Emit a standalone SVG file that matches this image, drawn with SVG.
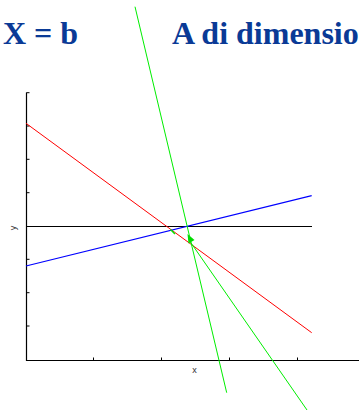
<svg xmlns="http://www.w3.org/2000/svg" width="359" height="411" viewBox="0 0 359 411">
<style>
.title{font-family:"Liberation Serif","Times New Roman",serif;font-weight:bold;font-size:32px;fill:#0a3a96}
.lbl{font-family:"Liberation Sans",Arial,sans-serif;font-size:9px;fill:#333}
.ax{stroke:#000;stroke-width:1.2;fill:none}
.tk{stroke:#000;stroke-width:1;fill:none}
</style>
<rect width="359" height="411" fill="#fff"/>
<g id="titles">
<text class="title" x="3" y="43.5">X = b</text>
<text class="title" x="172" y="43.5">A di dimensio</text>
</g>
<g id="axes">
<path class="ax" d="M26.5 92.5 V360.5 H359"/>
<path class="tk" d="M26.5 92.7h3M26.5 126h3M26.5 159.3h3M26.5 192.7h3M26.5 259.3h3M26.5 292.7h3M26.5 326h3"/>
<path class="tk" d="M93.5 360.5v-3M161.5 360.5v-3M229.5 360.5v-3M297.5 360.5v-3"/>
<text class="lbl" x="194.5" y="372.5" text-anchor="middle">x</text>
<text class="lbl" transform="translate(15.5,228) rotate(-90)" text-anchor="middle">y</text>
</g>
<g id="connectors">
<line x1="26" y1="226.5" x2="312" y2="226.5" stroke="#000" stroke-width="1.2"/>
<line x1="26" y1="123.3" x2="311.7" y2="332.7" stroke="#ff0000" stroke-width="1"/>
<line x1="26" y1="266" x2="311.7" y2="195.7" stroke="#0000ff" stroke-width="1.2"/>
<line x1="135" y1="6.7" x2="226.7" y2="392.7" stroke="#00ee00" stroke-width="1"/>
<line x1="189" y1="240" x2="307" y2="410" stroke="#00ee00" stroke-width="1"/>
<polygon points="187.5,234 188.5,243.5 194.5,240" fill="#00dd00"/>
<line x1="170.5" y1="229.5" x2="175" y2="234" stroke="#00ee00" stroke-width="1.5"/>
</g>
</svg>
